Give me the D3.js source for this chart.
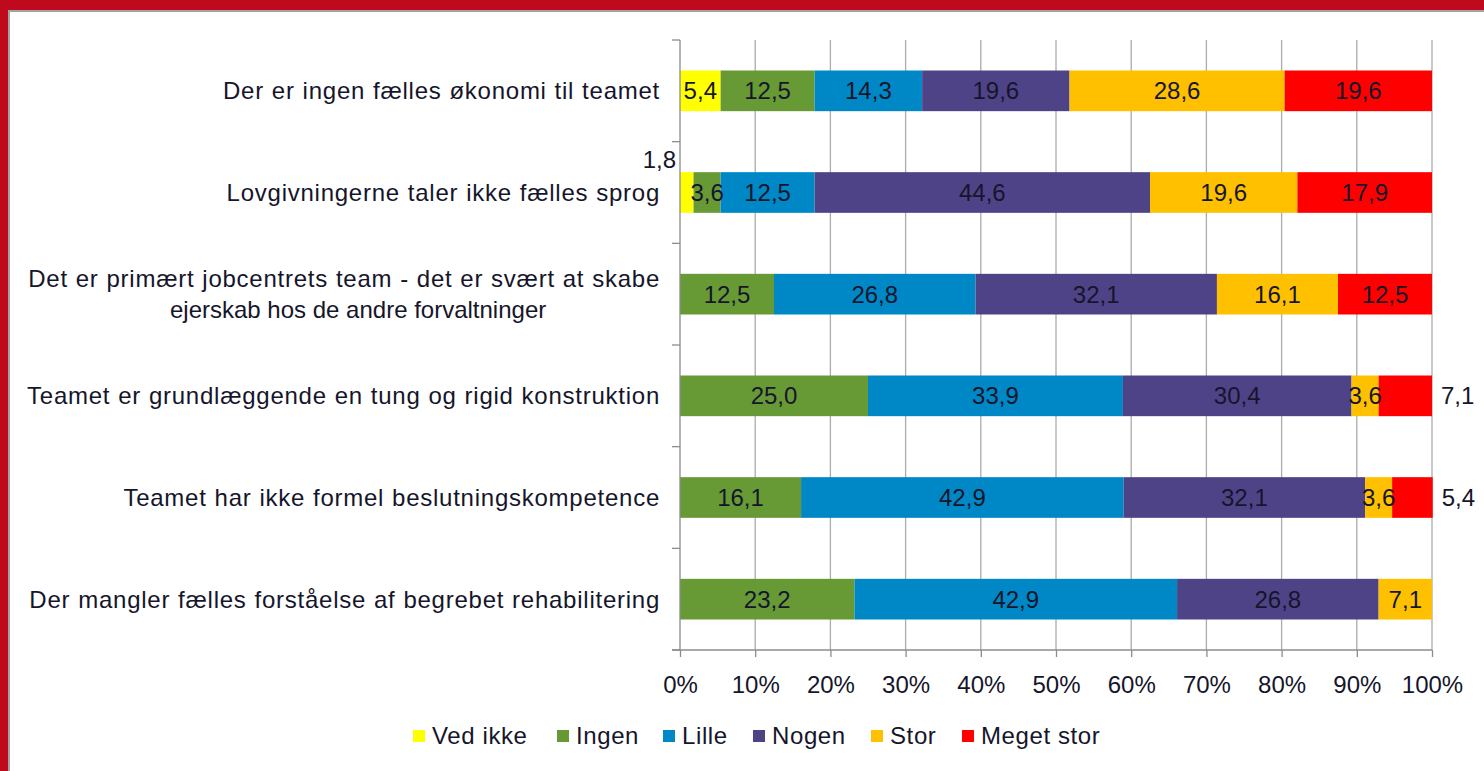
<!DOCTYPE html>
<html>
<head>
<meta charset="utf-8">
<script src="https://cdn.jsdelivr.net/npm/d3@7"></script>
<style>
  html, body { margin: 0; padding: 0; background: #fff; }
  svg { display: block; }
  text { font-family: "Liberation Sans", Arial, sans-serif; fill: #15152b; }
</style>
</head>
<body>
<svg id="chart" width="1484" height="771"></svg>
<script>
const categories = [
  ["Der er ingen fælles økonomi til teamet"],
  ["Lovgivningerne taler ikke fælles sprog"],
  ["Det er primært jobcentrets team - det er svært at skabe", "ejerskab hos de andre forvaltninger"],
  ["Teamet er grundlæggende en tung og rigid konstruktion"],
  ["Teamet har ikke formel beslutningskompetence"],
  ["Der mangler fælles forståelse af begrebet rehabilitering"]
];
const seriesNames = ["Ved ikke", "Ingen", "Lille", "Nogen", "Stor", "Meget stor"];
const vedIkke   = [5.4, 1.8, 0, 0, 0, 0];
const ingen     = [12.5, 3.6, 12.5, 25.0, 16.1, 23.2];
const lille     = [14.3, 12.5, 26.8, 33.9, 42.9, 42.9];
const nogen     = [19.6, 44.6, 32.1, 30.4, 32.1, 26.8];
const stor      = [28.6, 19.6, 16.1, 3.6, 3.6, 7.1];
const megetStor = [19.6, 17.9, 12.5, 7.1, 5.4, 0];
const xTicks = [0, 10, 20, 30, 40, 50, 60, 70, 80, 90, 100];
const colors = ["#FFFF00", "#679A35", "#0088C6", "#4F4387", "#FFC000", "#FF0000"];

(function () {
const seriesValues = [vedIkke, ingen, lille, nogen, stor, megetStor];
const rows = categories.map((c, i) => {
  const o = { idx: i };
  seriesNames.forEach((s, j) => o[s] = seriesValues[j][i]);
  return o;
});

const svg = d3.select("#chart");
const W = 1484, H = 771;
const RED = "#BE0A1C", EDGE = "#a3a3a3", AX = "#8c8c8c", GRID = "#ababab";

// frame
svg.append("rect").attr("x", 0).attr("y", 0).attr("width", W).attr("height", H).attr("fill", "#fff");
svg.append("rect").attr("x", 0).attr("y", 0).attr("width", W).attr("height", 10).attr("fill", RED);
svg.append("rect").attr("x", 0).attr("y", 0).attr("width", 8).attr("height", H).attr("fill", RED);
svg.append("rect").attr("x", 8).attr("y", 10).attr("width", W - 8).attr("height", 2).attr("fill", EDGE);
svg.append("rect").attr("x", 8).attr("y", 10).attr("width", 2).attr("height", H - 10).attr("fill", EDGE);

const pL = 680, pR = 1432, pT = 40, pB = 650;
const x = d3.scaleLinear().domain([0, 100]).range([pL, pR]);
const y = d3.scaleBand().domain(rows.map(r => r.idx)).range([pT, pB]).paddingInner(0.6).paddingOuter(0.3);

// gridlines
svg.append("g").selectAll("line").data(xTicks.slice(1)).join("line")
  .attr("x1", d => x(d)).attr("x2", d => x(d))
  .attr("y1", pT).attr("y2", pB)
  .attr("stroke", GRID).attr("stroke-width", 1.3);

// bars
const stack = d3.stack().keys(seriesNames)(rows);
const gBars = svg.append("g");
stack.forEach((layer, j) => {
  gBars.append("g").attr("fill", colors[j]).selectAll("rect")
    .data(layer.filter(d => d[1] - d[0] > 0)).join("rect")
    .attr("x", d => x(d[0]))
    .attr("y", d => y(d.data.idx))
    .attr("width", d => x(d[1]) - x(d[0]))
    .attr("height", y.bandwidth());
});

// y axis (category boundaries)
const band = (pB - pT) / rows.length;
const yAxisG = svg.append("g");
yAxisG.append("line").attr("x1", pL).attr("x2", pL).attr("y1", pT).attr("y2", pB)
  .attr("stroke", AX).attr("stroke-width", 1.3);
yAxisG.selectAll("line.tk").data(d3.range(rows.length + 1)).join("line").attr("class", "tk")
  .attr("x1", pL - 8).attr("x2", pL)
  .attr("y1", i => pT + i * band).attr("y2", i => pT + i * band)
  .attr("stroke", AX).attr("stroke-width", 1.3);

// x axis
const xAxis = d3.axisBottom(x).tickValues(xTicks).tickSize(7).tickFormat(d => d + "%");
const xg = svg.append("g").attr("transform", `translate(0,${pB})`).call(xAxis);
xg.select(".domain").remove();
xg.append("line").attr("x1", pL - 8).attr("x2", pR).attr("y1", 0).attr("y2", 0)
  .attr("stroke", AX).attr("stroke-width", 1.3);
xg.selectAll(".tick line").attr("stroke", AX).attr("stroke-width", 1.3);
xg.selectAll(".tick text").attr("y", 26).attr("dy", "0.71em")
  .style("font-size", "24px").style("font-family", "'Liberation Sans', Arial, sans-serif").attr("fill", "#15152b");

// category labels
const catG = svg.append("g");
rows.forEach((r, i) => {
  const lines = categories[i];
  const cy = y(r.idx) + y.bandwidth() / 2;
  const lh = 31;
  const texts = lines.map((ln, k) => catG.append("text")
      .attr("x", 660)
      .attr("y", cy + (k - (lines.length - 1) / 2) * lh)
      .attr("dy", "0.35em")
      .attr("font-size", 24)
      .style("letter-spacing", k === 0 ? "0.75px" : "0px")
      .style("word-spacing", k === 0 ? "0.5px" : "0px")
      .text(ln));
  if (lines.length > 1) {
    let maxW = 0;
    texts.forEach(t => maxW = Math.max(maxW, t.node().getComputedTextLength()));
    texts.forEach((t, k) => t.attr("x", 660 - maxW / 2 + (k > 0 ? 14 : 0)).attr("text-anchor", "middle"));
  } else {
    texts.forEach(t => t.attr("text-anchor", "end"));
  }
});

// data labels
const fmt = v => v.toFixed(1).replace(".", ",");
const lblG = svg.append("g");
stack.forEach((layer, j) => {
  layer.forEach((d, i) => {
    const v = d[1] - d[0];
    if (v <= 0) return;
    const cy = y(d.data.idx) + y.bandwidth() / 2;
    let tx = (x(d[0]) + x(d[1])) / 2, ty = cy, anchor = "middle";
    if (v < 2) { tx = pL - 4; ty = y(d.data.idx) - 13; anchor = "end"; }
    else if (j === seriesNames.length - 1 && seriesValues[j - 1][i] < 4) { tx = x(d[1]) + 9; anchor = "start"; }
    lblG.append("text").attr("x", tx).attr("y", ty).attr("dy", "0.35em")
      .attr("text-anchor", anchor).attr("font-size", 24).text(fmt(v));
  });
});

// legend
const legendX = [413, 557, 663, 753, 871, 962];
const lg = svg.append("g");
seriesNames.forEach((s, j) => {
  const g = lg.append("g").attr("transform", `translate(${legendX[j]},736)`);
  g.append("rect").attr("x", 0).attr("y", -6).attr("width", 12).attr("height", 12).attr("fill", colors[j]);
  g.append("text").attr("x", 19).attr("y", 0).attr("dy", "0.35em").attr("font-size", 24)
    .style("letter-spacing", "0.6px").text(s);
});
})();
</script>
</body>
</html>
